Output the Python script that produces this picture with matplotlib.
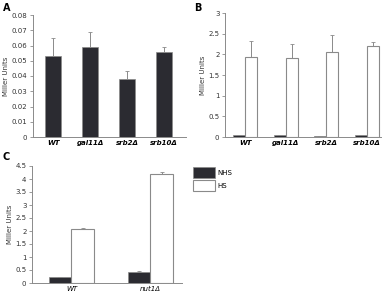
import numpy as np
import matplotlib
matplotlib.use('Agg')
import matplotlib.pyplot as plt
from matplotlib.patches import Patch

# panel A
strainsA = ['WT', 'gal11Δ', 'srb2Δ', 'srb10Δ']
valsA = [0.053, 0.059, 0.038, 0.0555]
errA = [0.012, 0.010, 0.005, 0.0035]

# panel B
nhsB = [0.05, 0.05, 0.03, 0.05]
nhsB_err = [0.01, 0.01, 0.005, 0.01]
hsB = [1.93, 1.90, 2.05, 2.20]
hsB_err = [0.39, 0.35, 0.42, 0.10]

# panel C
strainsC = ['WT', 'nut1Δ']
nhsC = [0.25, 0.43]
nhsC_err = [0.0, 0.05]
hsC = [2.08, 4.18]
hsC_err = [0.03, 0.08]

W, H = 383, 295
dark = '#2b2b31'
grey = '#8a8a8a'
fs = 5.0

fig = plt.figure(figsize=(W / 100, H / 100), dpi=100)

def box(x0, y0, x1, y1):
    return [x0 / W, 1 - y1 / H, (x1 - x0) / W, (y1 - y0) / H]

def style(ax, ymax, step):
    for s in ['top', 'right']:
        ax.spines[s].set_visible(False)
    for s in ['left', 'bottom']:
        ax.spines[s].set_color(grey)
        ax.spines[s].set_linewidth(0.7)
    ax.set_ylim(0, ymax)
    ticks = np.arange(0, ymax + step / 2, step)
    ax.set_yticks(ticks)
    ax.set_yticklabels(['{:g}'.format(round(t, 3)) for t in ticks], fontsize=fs, color='#333333')
    ax.tick_params(axis='y', length=2, width=0.6, color=grey, pad=2)
    ax.tick_params(axis='x', length=0, pad=2)
    ax.set_ylabel('Miller Units', fontsize=fs, color='#333333', labelpad=2)

errkw = dict(ecolor=grey, elinewidth=0.7, capsize=1.2, capthick=0.6)

# A
axA = fig.add_axes(box(33, 15, 186, 137))
xA = np.arange(len(strainsA))
axA.bar(xA, valsA, 0.43, color=dark, edgecolor=grey, linewidth=0.5,
        yerr=[np.zeros(4), errA], error_kw=errkw)
style(axA, 0.08, 0.01)
axA.set_xlim(-0.55, 3.6)
axA.set_xticks(xA)
axA.set_xticklabels(strainsA, fontsize=fs, style='italic', fontweight='bold')

# B
axB = fig.add_axes(box(225, 13, 381, 137))
xB = np.arange(4)
bw = 0.3
axB.bar(xB - bw / 2, nhsB, bw, color=dark, edgecolor=grey, linewidth=0.5,
        yerr=[np.zeros(4), nhsB_err], error_kw=errkw)
axB.bar(xB + bw / 2, hsB, bw, color='white', edgecolor=grey, linewidth=0.8,
        yerr=[np.zeros(4), hsB_err], error_kw=errkw)
style(axB, 3, 0.5)
axB.set_xlim(-0.5, 3.35)
axB.set_xticks(xB)
axB.set_xticklabels(strainsA, fontsize=fs, style='italic', fontweight='bold')

# C
axC = fig.add_axes(box(32, 166, 182, 283))
xC = np.arange(2)
bw = 0.29
axC.bar(xC - bw / 2, nhsC, bw, color=dark, edgecolor=grey, linewidth=0.5,
        yerr=[np.zeros(2), nhsC_err], error_kw=errkw)
axC.bar(xC + bw / 2, hsC, bw, color='white', edgecolor=grey, linewidth=0.8,
        yerr=[np.zeros(2), hsC_err], error_kw=errkw)
style(axC, 4.5, 0.5)
axC.set_xlim(-0.5, 1.4)
axC.set_xticks(xC)
axC.set_xticklabels(strainsC, fontsize=fs, style='italic')

handles = [Patch(facecolor=dark, edgecolor=grey, linewidth=0.5, label='NHS'),
           Patch(facecolor='white', edgecolor=grey, linewidth=0.8, label='HS')]
fig.legend(handles=handles, loc='upper left', bbox_to_anchor=(187 / W, 1 - 161 / H),
           frameon=False, fontsize=fs, handlelength=3.2, handleheight=2.0,
           labelspacing=0.35, handletextpad=0.3)

for lab, x, y in [('A', 3, 11), ('B', 194, 11), ('C', 3, 160)]:
    fig.text(x / W, 1 - y / H, lab, fontsize=7, fontweight='bold')

fig.savefig('out.png', dpi=100)
